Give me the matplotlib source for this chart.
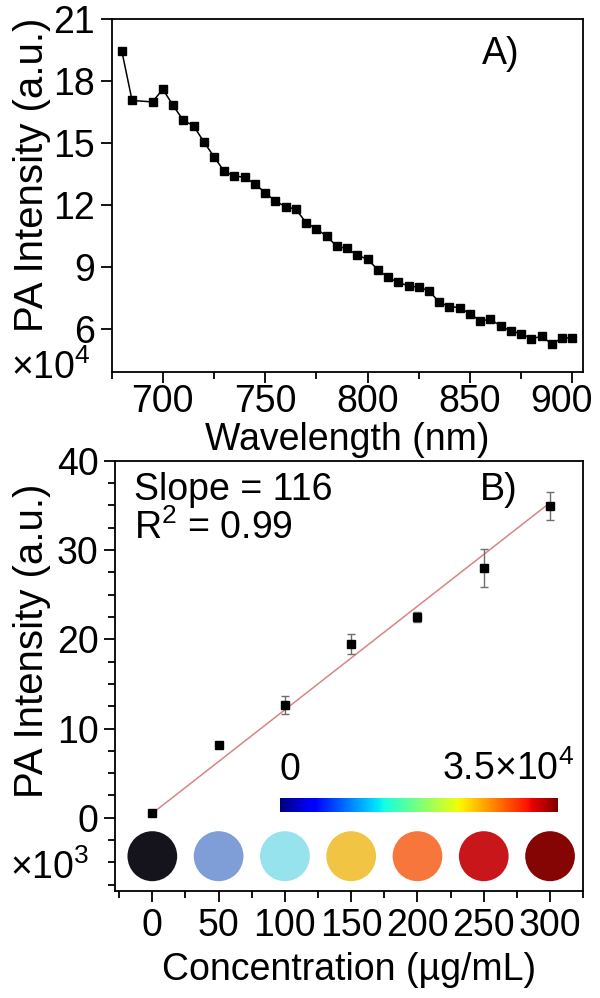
"""Photoacoustic spectrum (A) and concentration calibration (B)."""
import numpy as np
import matplotlib
matplotlib.use("Agg")
import matplotlib.pyplot as plt
from matplotlib.patches import Ellipse
from matplotlib.ticker import MultipleLocator
from matplotlib.transforms import ScaledTranslation

plt.rcParams["font.family"] = ["Liberation Sans", "DejaVu Sans"]
plt.rcParams["font.size"] = 27
plt.rcParams["mathtext.default"] = "regular"

# Panel A: PA intensity (x10^4) vs wavelength
wavelength = [680, 685] + list(range(695, 905, 5))
intensity = [19.46, 17.07, 17.00, 17.62, 16.83, 16.11, 15.85, 15.07, 14.34,
             13.63, 13.40, 13.35, 13.01, 12.60, 12.18, 11.92, 11.79, 11.14,
             10.84, 10.49, 9.99, 9.89, 9.56, 9.37, 8.86, 8.49, 8.24, 8.08,
             8.01, 7.84, 7.28, 7.07, 7.02, 6.72, 6.38, 6.45, 6.13, 5.88, 5.76,
             5.52, 5.62, 5.26, 5.55, 5.55]

# Panel B: PA intensity (x10^3) vs concentration
conc = [0, 50, 100, 150, 200, 250, 300]
pa_conc = [0.5, 8.1, 12.6, 19.5, 22.5, 28.0, 34.9]
pa_err = [0.2, 0.2, 1.0, 1.1, 0.6, 2.1, 1.6]
fit_slope = 0.116      # 116 per 10^3 a.u. / (µg/mL)
fit_intercept = 0.5
spot_colors = ["#15141c", "#7f9dd6", "#96e3ee", "#f2c444", "#f6763c",
               "#c8161a", "#850404"]

fig = plt.figure(figsize=(6, 9.98), dpi=100)

def style(ax):
    for s in ax.spines.values():
        s.set_linewidth(1.3)
    ax.tick_params(which="major", direction="out", length=8, width=1.3, pad=4)
    ax.tick_params(which="minor", direction="out", length=5, width=1.3)

# ---- A ----
axA = fig.add_axes([0.186, 0.6273, 0.785, 0.3532])
axA.plot(wavelength, intensity, "-s", color="black", lw=1.1, ms=5.5)
axA.set_xlim(675, 905)
axA.set_ylim(3.9, 21)
axA.set_yticks([6, 9, 12, 15, 18, 21])
axA.set_xticks([700, 750, 800, 850, 900])
axA.xaxis.set_minor_locator(MultipleLocator(25))
style(axA)
axA.tick_params(axis="x", which="major", pad=1)
last = axA.get_xticklabels()[-1]
last.set_transform(last.get_transform()
                   + ScaledTranslation(-8 / 72, 0, fig.dpi_scale_trans))
axA.text(0.867, 0.903, "A)", transform=axA.transAxes, ha="right", va="center")
axA.set_xlabel("Wavelength (nm)", labelpad=1)
fig.text(0.053, 1 - 175 / 998, "PA Intensity (a.u.)", rotation=90,
         ha="center", va="center", fontsize=29)
fig.text(0.085, 1 - 368 / 998, r"×10$^{4}$", ha="center", va="center")

# ---- B ----
axB = fig.add_axes([0.192, 0.1072, 0.780, 0.4312])
xfit = np.array([conc[0], conc[-1]])
axB.plot(xfit, fit_slope * xfit + fit_intercept, color="#d98485", lw=1.1,
         zorder=2)
axB.errorbar(conc, pa_conc, yerr=pa_err, fmt="s", color="black", ms=5.5,
             ecolor="#6e6e6e", elinewidth=1, capsize=3, capthick=1, zorder=3)
axB.set_xlim(-28, 325)
axB.set_ylim(-8.2, 40)
axB.set_xticks(conc)
axB.set_yticks([0, 10, 20, 30, 40])
axB.xaxis.set_minor_locator(MultipleLocator(25))
axB.yaxis.set_minor_locator(MultipleLocator(2.5))
style(axB)

for c, col in zip(conc, spot_colors):
    axB.add_patch(Ellipse((c, -4.3), 37.5, 5.6, color=col, lw=0))

grad = np.linspace(0, 1, 256).reshape(1, -1)
axB.imshow(grad, cmap="jet", aspect="auto", extent=[96, 305, 0.67, 2.18],
           zorder=2)
axB.text(104, 3.3, "0", ha="center", va="bottom")
axB.text(318, 3.3, r"3.5×10$^{4}$", ha="right", va="bottom")

axB.text(0.041, 0.932, "Slope = 116", transform=axB.transAxes, va="center")
axB.text(0.041, 0.8436, r"R$^{2}$ = 0.99", transform=axB.transAxes,
         va="center")
axB.text(0.859, 0.932, "B)", transform=axB.transAxes, ha="right", va="center")
axB.set_xlabel("Concentration (µg/mL)", labelpad=6)
fig.text(0.053, 1 - 641 / 998, "PA Intensity (a.u.)", rotation=90,
         ha="center", va="center", fontsize=29)
fig.text(0.083, 1 - 868 / 998, r"×10$^{3}$", ha="center", va="center")

fig.savefig("out.png", dpi=100)
